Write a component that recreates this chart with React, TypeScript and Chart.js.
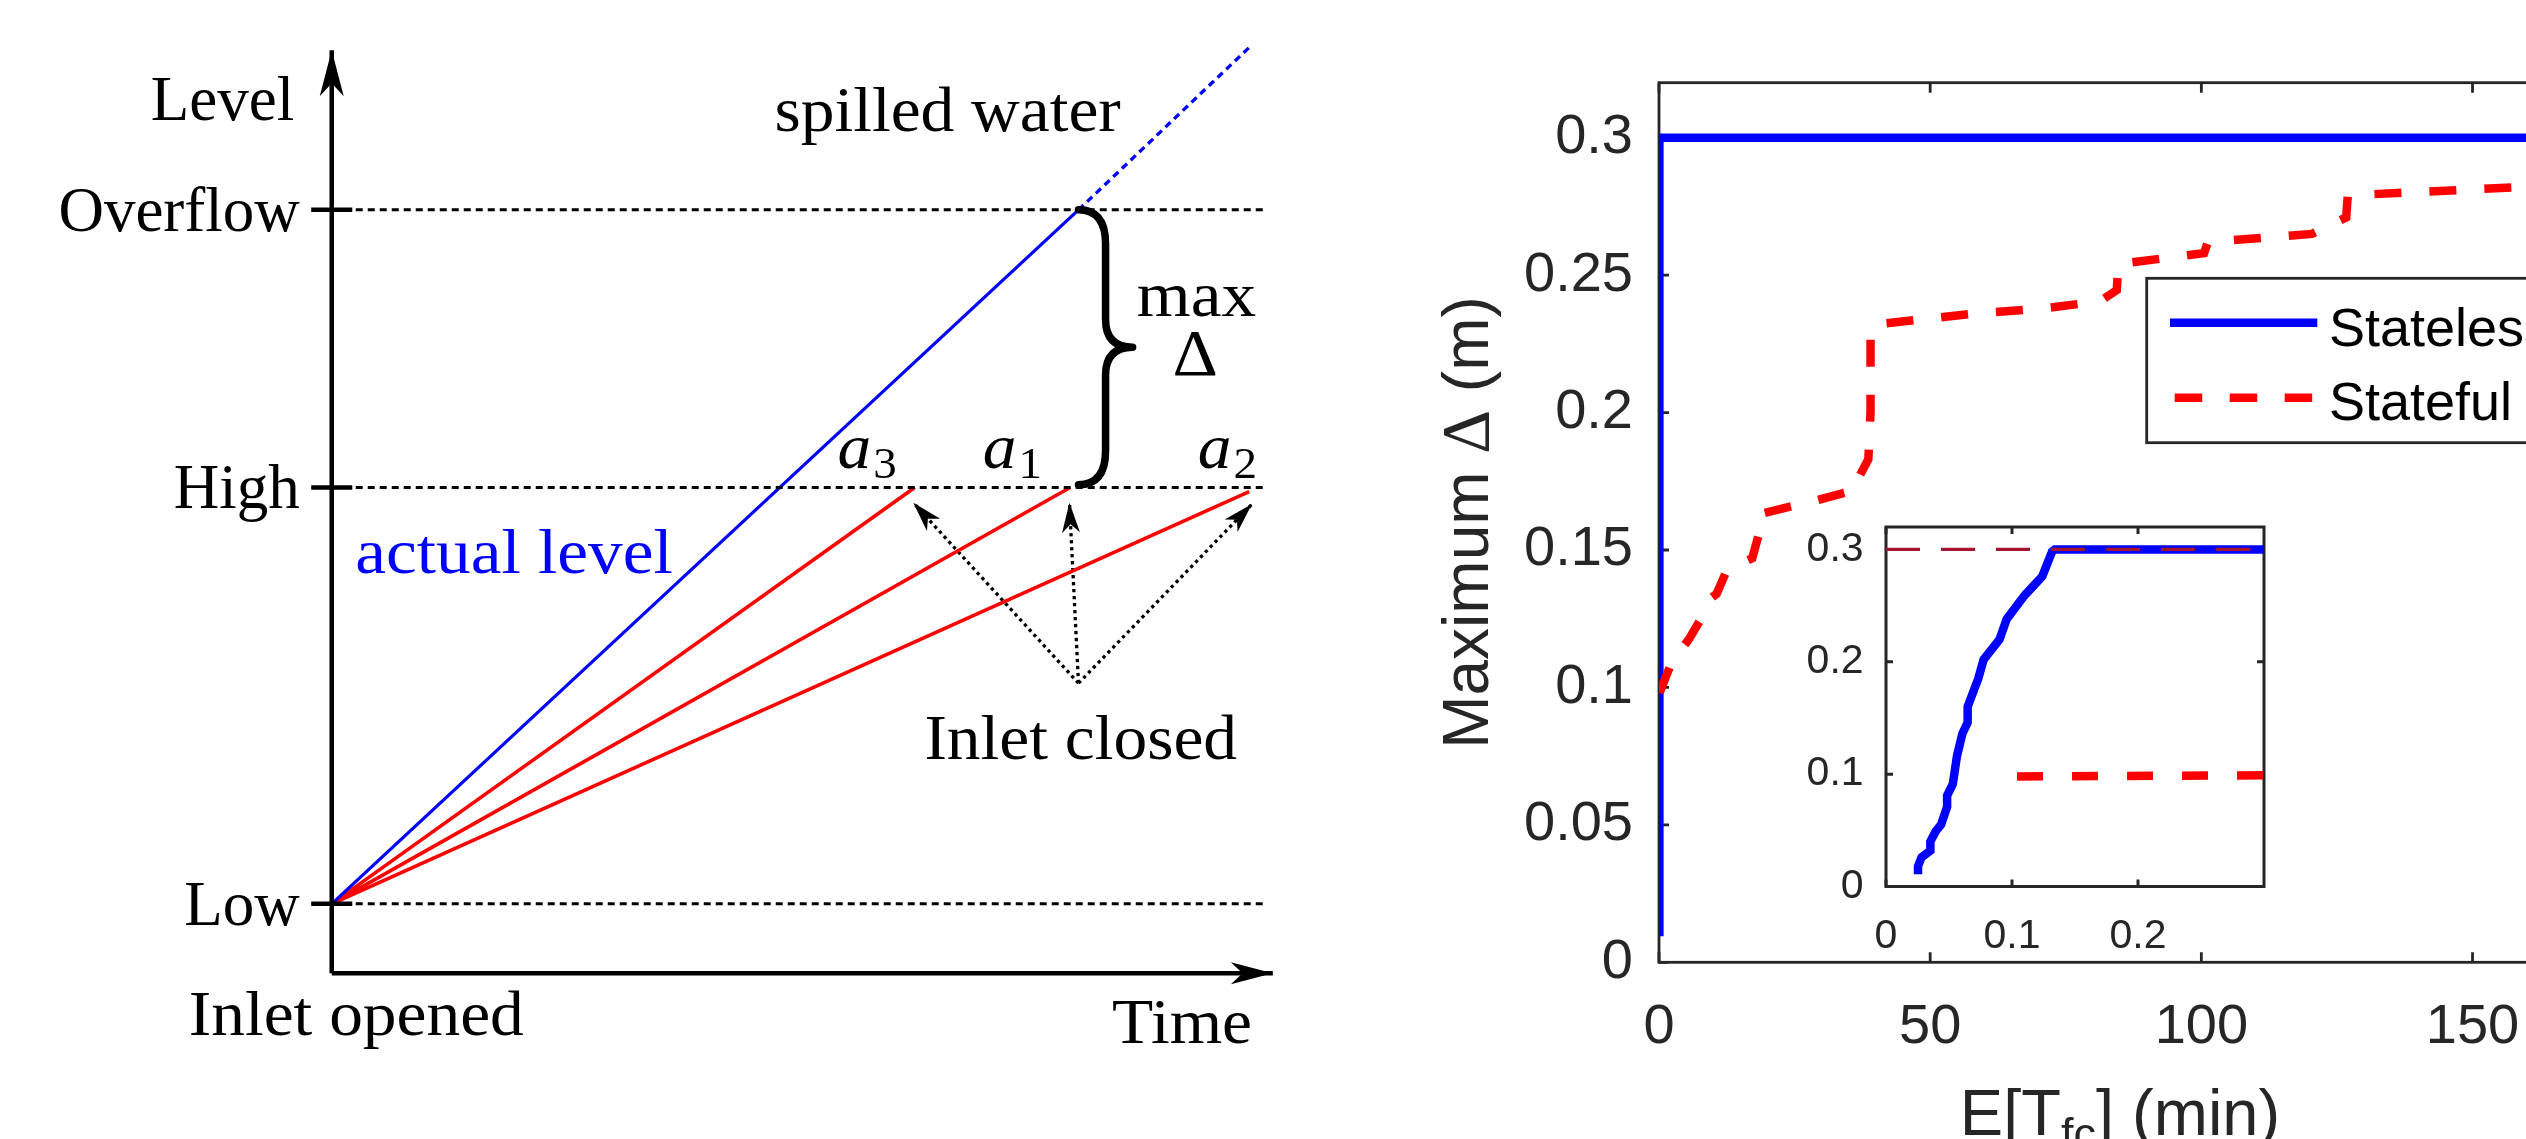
import React, { useEffect, useRef } from "react";
import { Chart, registerables } from "chart.js";

Chart.register(...registerables);

const SERIF = '"Liberation Serif", "Times New Roman", serif';
const SANS = '"Liberation Sans", Arial, Helvetica, sans-serif';
const AXIS_GRAY = "#262626";
const BLUE = "#0000FF";
const RED = "#FF0000";
const MAROON = "#A2142F";

// ---------------- Left panel: schematic (time vs level) ----------------
const LEVEL_NAMES = ["Low", "High", "Overflow"];
const LEVEL_VALUES = [1, 4, 6];
const LEVEL_GUIDE_END = 6.73;
const LEVEL_AXIS = [0.5, 7.15];
const TIME_AXIS = [0, 6.78];

const ACTUAL_TIME = [0, 5.38];
const ACTUAL_LEVEL = [1, 6];
const SPILLED_TIME = [5.38, 6.62];
const SPILLED_LEVEL = [6, 7.18];

const RATE_INDEX = ["3", "1", "2"];
const RATE_END_TIME = [4.2, 5.32, 6.61];
const RATE_END_LEVEL = [4, 4, 3.97];
const RATE_LABEL_TIME = [3.644, 4.69, 6.24];
const RATE_LABEL_LEVEL = 4.14;

const CLOSED_FROM_TIME = 5.38;
const CLOSED_FROM_LEVEL = 2.59;
const CLOSED_TIP_TIME = [4.19, 5.315, 6.63];
const CLOSED_TIP_LEVEL = [3.89, 3.89, 3.88];

const BRACE_TIME = 5.38;
const BRACE_TIP_TIME = 5.77;
const BRACE_LEVELS = [6, 4.02];

const SCHEMATIC_TEXT = [
  { text: "Level", t: -0.27, L: 6.645, align: "right", color: "#000", stretch: 1.0 },
  { text: "Inlet opened", t: -1.03, L: 0.055, align: "left", color: "#000", stretch: 1.07 },
  { text: "Time", t: 6.63, L: 0.0, align: "right", color: "#000", stretch: 1.07 },
  { text: "spilled water", t: 3.19, L: 6.565, align: "left", color: "#000", stretch: 1.07 },
  { text: "actual level", t: 0.17, L: 3.384, align: "left", color: BLUE, stretch: 1.1 },
  { text: "max", t: 5.8, L: 5.232, align: "left", color: "#000", stretch: 1.1 },
  { text: "Inlet closed", t: 4.27, L: 2.044, align: "left", color: "#000", stretch: 1.07 },
];
const DELTA_POS = { t: 6.22, L: 4.81 };

// ---------------- Right panel: Maximum Δ vs E[T_fc] ----------------
const SERIES_NAMES = ["Stateless", "Stateful"];
const MAIN_X_TICKS = [0, 50, 100, 150];
const MAIN_X_MAX = 170;
const MAIN_Y_TICKS = [0, 0.05, 0.1, 0.15, 0.2, 0.25, 0.3];
const MAIN_Y_MAX = 0.32;
const INSET_X_TICKS = [0, 0.1, 0.2];
const INSET_X_MAX = 0.3;
const INSET_Y_TICKS = [0, 0.1, 0.2, 0.3];
const INSET_Y_MAX = 0.32;

const STATELESS_X = [0.0254, 0.0254, 0.0282, 0.0352, 0.0352, 0.0394, 0.0437, 0.0485, 0.0485, 0.053, 0.0563, 0.0606, 0.0648, 0.0648, 0.0732, 0.0775, 0.0901, 0.0958, 0.1099, 0.124, 0.1318, 0.134, 170];
const STATELESS_Y = [0.011, 0.018, 0.026, 0.032, 0.04, 0.049, 0.055, 0.071, 0.081, 0.091, 0.116, 0.136, 0.146, 0.16, 0.185, 0.202, 0.22, 0.238, 0.259, 0.276, 0.298, 0.3, 0.3];

const STATEFUL_X = [0.104, 2.3, 5.5, 7.9, 9.0, 9.6, 10.6, 12.6, 17.2, 18.3, 18.5, 22.5, 29, 36.4, 37, 38.6, 39, 39, 39.7, 58.2, 71.4, 81.3, 84.4, 84.7, 100.5, 101.2, 120.4, 126.7, 127, 158.7, 170];
const STATEFUL_Y = [0.098, 0.109, 0.1175, 0.1255, 0.13, 0.1325, 0.134, 0.143, 0.147, 0.155, 0.163, 0.165, 0.168, 0.172, 0.177, 0.183, 0.2, 0.228, 0.232, 0.236, 0.238, 0.2405, 0.2445, 0.254, 0.258, 0.262, 0.265, 0.271, 0.279, 0.282, 0.2835];

const REFERENCE_X = [0, 0.3];
const REFERENCE_Y = [0.3, 0.3];

function xy(xs: number[], ys: number[]) {
  return xs.map((x, i) => ({ x, y: ys[i] }));
}

function stealth(ctx: CanvasRenderingContext2D, tipX: number, tipY: number, fromX: number, fromY: number, len: number, half: number) {
  const ang = Math.atan2(tipY - fromY, tipX - fromX);
  const c = Math.cos(ang), s = Math.sin(ang);
  const bx = tipX - len * c, by = tipY - len * s;
  const nx = tipX - len * 0.72 * c, ny = tipY - len * 0.72 * s;
  ctx.beginPath();
  ctx.moveTo(tipX, tipY);
  ctx.lineTo(bx - half * s, by + half * c);
  ctx.lineTo(nx, ny);
  ctx.lineTo(bx + half * s, by - half * c);
  ctx.closePath();
  ctx.fill();
}

function serifText(ctx: CanvasRenderingContext2D, text: string, x: number, y: number, font: string, color: string, align: CanvasTextAlign, stretch = 1.07) {
  ctx.save();
  ctx.font = font;
  ctx.fillStyle = color;
  ctx.textBaseline = "alphabetic";
  ctx.textAlign = align;
  ctx.translate(x, y);
  ctx.scale(stretch, 1);
  ctx.fillText(text, 0, 0);
  ctx.restore();
}

const schematicPlugin = {
  id: "schematic",
  afterDatasetsDraw(chart: any) {
    const { ctx } = chart;
    const sx = chart.scales.x, sy = chart.scales.y;
    const px = (t: number) => sx.getPixelForValue(t);
    const py = (l: number) => sy.getPixelForValue(l);
    ctx.save();
    ctx.setLineDash([]);
    // arrowheads
    chart.data.datasets.forEach((ds: any, i: number) => {
      if (!ds.arrowHead) return;
      const pts = chart.getDatasetMeta(i).data;
      const a = pts[pts.length - 2], b = pts[pts.length - 1];
      ctx.fillStyle = ds.borderColor;
      stealth(ctx, b.x, b.y, a.x, a.y, ds.arrowHead.length, ds.arrowHead.half);
    });
    // level ticks on the vertical axis
    ctx.strokeStyle = "#000";
    ctx.lineWidth = 4.5;
    LEVEL_VALUES.forEach((L) => {
      ctx.beginPath();
      ctx.moveTo(px(-0.148), py(L));
      ctx.lineTo(px(0.148), py(L));
      ctx.stroke();
    });
    // curly brace
    const x0 = px(BRACE_TIME), xt = px(BRACE_TIP_TIME);
    const y1 = py(BRACE_LEVELS[0]), y2 = py(BRACE_LEVELS[1]);
    const xm = (x0 + xt) / 2, ym = (y1 + y2) / 2;
    const ry = 34;
    ctx.lineWidth = 7.5;
    ctx.lineCap = "round";
    ctx.beginPath();
    ctx.moveTo(x0, y1);
    ctx.quadraticCurveTo(xm, y1, xm, y1 + ry);
    ctx.lineTo(xm, ym - 28);
    ctx.quadraticCurveTo(xm, ym, xt, ym);
    ctx.moveTo(xt, ym);
    ctx.quadraticCurveTo(xm, ym, xm, ym + 28);
    ctx.lineTo(xm, y2 - ry);
    ctx.quadraticCurveTo(xm, y2, x0, y2);
    ctx.stroke();
    // labels
    const font = `63px ${SERIF}`;
    LEVEL_NAMES.forEach((name, i) => {
      serifText(ctx, name, px(-0.23), py(LEVEL_VALUES[i] - 0.15), font, "#000", "right", 1.0);
    });
    SCHEMATIC_TEXT.forEach((d) => serifText(ctx, d.text, px(d.t), py(d.L), font, d.color, d.align as CanvasTextAlign, d.stretch));
    serifText(ctx, "\u0394", px(DELTA_POS.t), py(DELTA_POS.L), `66px ${SERIF}`, "#000", "center");
    RATE_INDEX.forEach((idx, i) => {
      const x = px(RATE_LABEL_TIME[i]);
      const y = py(RATE_LABEL_LEVEL);
      ctx.font = `italic 63px ${SERIF}`;
      const w = ctx.measureText("a").width * 1.07;
      serifText(ctx, "a", x, y, `italic 63px ${SERIF}`, "#000", "left");
      serifText(ctx, idx, x + w + 2, y + 10, `44px ${SERIF}`, "#000", "left");
    });
    ctx.restore();
  },
};

function seg(xs: number[], ys: number[], color: string, width: number, dash: number[] = [], arrow?: { length: number; half: number }) {
  return {
    data: xy(xs, ys),
    showLine: true,
    borderColor: color,
    borderWidth: width,
    borderDash: dash,
    pointRadius: 0,
    fill: false,
    arrowHead: arrow,
  };
}

function makeSchematic(canvas: HTMLCanvasElement) {
  const datasets: any[] = [
    ...LEVEL_VALUES.map((L) => seg([0, LEVEL_GUIDE_END], [L, L], "#000", 3, [7, 5])),
    seg([0, 0], LEVEL_AXIS, "#000", 4.5, [], { length: 46, half: 12 }),
    seg(TIME_AXIS, [LEVEL_AXIS[0], LEVEL_AXIS[0]], "#000", 4.5, [], { length: 42, half: 11 }),
    seg(ACTUAL_TIME, ACTUAL_LEVEL, BLUE, 3.3),
    seg(SPILLED_TIME, SPILLED_LEVEL, BLUE, 3.3, [7, 5]),
    ...RATE_END_TIME.map((t, i) => seg([0, t], [LEVEL_VALUES[0], RATE_END_LEVEL[i]], RED, 3.6)),
    ...CLOSED_TIP_TIME.map((t, i) =>
      seg([CLOSED_FROM_TIME, t], [CLOSED_FROM_LEVEL, CLOSED_TIP_LEVEL[i]], "#000", 3.3, [3.3, 3.7], { length: 30, half: 9 })
    ),
  ];
  return new Chart(canvas, {
    type: "scatter",
    data: { datasets },
    options: {
      animation: false,
      responsive: false,
      events: [],
      layout: { padding: 0 },
      plugins: { legend: { display: false }, tooltip: { enabled: false } },
      scales: {
        x: { type: "linear", min: -2.39, max: 7.192, display: false },
        y: { type: "linear", min: -0.694, max: 7.512, display: false },
      },
    },
    plugins: [schematicPlugin],
  } as any);
}

const boxPlugin = {
  id: "matlabBox",
  beforeDatasetsDraw(chart: any, _args: any, opts: any) {
    const { ctx, chartArea: a, scales } = chart;
    ctx.save();
    ctx.fillStyle = "#fff";
    ctx.fillRect(a.left, a.top, a.right - a.left, a.bottom - a.top);
    ctx.strokeStyle = AXIS_GRAY;
    ctx.lineWidth = opts.lineWidth;
    ctx.setLineDash([]);
    ctx.strokeRect(a.left, a.top, a.right - a.left, a.bottom - a.top);
    const L = opts.tickLength;
    ctx.beginPath();
    scales.x.ticks.forEach((t: any) => {
      const x = scales.x.getPixelForValue(t.value);
      ctx.moveTo(x, a.bottom);
      ctx.lineTo(x, a.bottom - L);
      ctx.moveTo(x, a.top);
      ctx.lineTo(x, a.top + L);
    });
    scales.y.ticks.forEach((t: any) => {
      const y = scales.y.getPixelForValue(t.value);
      ctx.moveTo(a.left, y);
      ctx.lineTo(a.left + L, y);
      ctx.moveTo(a.right, y);
      ctx.lineTo(a.right - L, y);
    });
    ctx.stroke();
    ctx.restore();
  },
};

const legendPlugin = {
  id: "boxLegend",
  afterDatasetsDraw(chart: any) {
    const { ctx, chartArea: a } = chart;
    const left = a.left + 487.7, top = a.top + 195.6, w = 424, h = 164.4;
    ctx.save();
    ctx.fillStyle = "#fff";
    ctx.fillRect(left, top, w, h);
    ctx.strokeStyle = AXIS_GRAY;
    ctx.lineWidth = 2.8;
    ctx.setLineDash([]);
    ctx.strokeRect(left, top, w, h);
    chart.data.datasets.forEach((ds: any, i: number) => {
      const y = top + 44.4 + i * 75;
      ctx.strokeStyle = ds.borderColor;
      ctx.lineWidth = ds.borderWidth;
      ctx.lineCap = "butt";
      if (ds.borderDash && ds.borderDash.length) {
        ctx.setLineDash([27.5, 27.5]);
        ctx.beginPath();
        ctx.moveTo(left + 28, y);
        ctx.lineTo(left + 166, y);
        ctx.stroke();
      } else {
        ctx.setLineDash([]);
        ctx.beginPath();
        ctx.moveTo(left + 23.3, y);
        ctx.lineTo(left + 170.6, y);
        ctx.stroke();
      }
      ctx.setLineDash([]);
      ctx.fillStyle = "#000";
      ctx.font = `54px ${SANS}`;
      ctx.textAlign = "left";
      ctx.textBaseline = "alphabetic";
      ctx.fillText(SERIES_NAMES[i], left + 182.3, top + 67.7 + i * 74);
    });
    ctx.restore();
  },
};

const titlePlugin = {
  id: "axisTitles",
  afterDraw(chart: any) {
    const { ctx, chartArea: a } = chart;
    ctx.save();
    ctx.fillStyle = AXIS_GRAY;
    ctx.textBaseline = "alphabetic";
    ctx.textAlign = "left";
    // x title: E[T_fc] (min)
    const big = `65px ${SANS}`, small = `45px ${SANS}`;
    const parts = [
      { s: "E[T", f: big, dy: 0 },
      { s: "fc", f: small, dy: 14 },
      { s: "] (min)", f: big, dy: 0 },
    ];
    const widths = parts.map((p) => { ctx.font = p.f; return ctx.measureText(p.s).width; });
    const total = widths.reduce((s, v) => s + v, 0);
    let x = (a.left + a.right) / 2 - total / 2;
    const base = a.bottom + 172.7;
    parts.forEach((p, i) => { ctx.font = p.f; ctx.fillText(p.s, x, base + p.dy); x += widths[i]; });
    // y title: Maximum Δ (m)
    const yparts = [
      { s: "Maximum ", f: `64px ${SANS}` },
      { s: "\u0394", f: `68px ${SERIF}` },
      { s: " (m)", f: `64px ${SANS}` },
    ];
    const yw = yparts.map((p) => { ctx.font = p.f; return ctx.measureText(p.s).width; });
    const ytotal = yw.reduce((s, v) => s + v, 0);
    ctx.translate(a.left - 171, (a.top + a.bottom) / 2);
    ctx.rotate(-Math.PI / 2);
    let u = -ytotal / 2;
    yparts.forEach((p, i) => { ctx.font = p.f; ctx.fillText(p.s, u, 0); u += yw[i]; });
    ctx.restore();
  },
};

function axisOpts(max: number, ticks: number[], size: number, pad: number, fontSize: number, horizontal: boolean) {
  return {
    type: "linear",
    min: 0,
    max,
    afterBuildTicks: (s: any) => { s.ticks = ticks.map((v) => ({ value: v })); },
    afterFit: (s: any) => { if (horizontal) s.height = size; else s.width = size; },
    grid: { display: false, drawTicks: false },
    border: { display: false },
    ticks: {
      autoSkip: false,
      maxRotation: 0,
      padding: pad,
      color: AXIS_GRAY,
      font: { family: SANS, size: fontSize },
      callback: (v: any) => String(v),
    },
  };
}

function makeMain(canvas: HTMLCanvasElement) {
  return new Chart(canvas, {
    type: "scatter",
    data: {
      datasets: [
        { label: SERIES_NAMES[0], data: xy(STATELESS_X, STATELESS_Y), showLine: true, borderColor: BLUE, borderWidth: 8.5, pointRadius: 0, order: 2 },
        { label: SERIES_NAMES[1], data: xy(STATEFUL_X, STATEFUL_Y), showLine: true, borderColor: RED, borderWidth: 8.5, borderDash: [27, 28], pointRadius: 0, order: 1 },
      ],
    },
    options: {
      animation: false,
      responsive: false,
      events: [],
      layout: { padding: { top: 82.7, right: 59, left: 0, bottom: 0 } },
      plugins: {
        legend: { display: false },
        tooltip: { enabled: false },
        matlabBox: { lineWidth: 2.8, tickLength: 10 },
      },
      scales: {
        x: axisOpts(MAIN_X_MAX, MAIN_X_TICKS, 1139 - 962.3, 31.7, 56, true),
        y: axisOpts(MAIN_Y_MAX, MAIN_Y_TICKS, 259, 26, 56, false),
      },
    },
    plugins: [boxPlugin, legendPlugin, titlePlugin],
  } as any);
}

function makeInset(canvas: HTMLCanvasElement) {
  return new Chart(canvas, {
    type: "scatter",
    data: {
      datasets: [
        { label: SERIES_NAMES[0], data: xy(STATELESS_X, STATELESS_Y), showLine: true, borderColor: BLUE, borderWidth: 8.5, pointRadius: 0, order: 3 },
        { label: SERIES_NAMES[1], data: xy(STATEFUL_X, STATEFUL_Y), showLine: true, borderColor: RED, borderWidth: 8.5, borderDash: [26, 29], pointRadius: 0, order: 2 },
        { label: "reference", data: xy(REFERENCE_X, REFERENCE_Y), showLine: true, borderColor: MAROON, borderWidth: 3.3, borderDash: [34, 21], pointRadius: 0, order: 1 },
      ],
    },
    options: {
      animation: false,
      responsive: false,
      events: [],
      layout: { padding: { top: 36, right: 36, left: 0, bottom: 0 } },
      plugins: {
        legend: { display: false },
        tooltip: { enabled: false },
        matlabBox: { lineWidth: 3, tickLength: 7 },
      },
      scales: {
        x: axisOpts(INSET_X_MAX, INSET_X_TICKS, 93.5, 25.6, 41, true),
        y: axisOpts(INSET_Y_MAX, INSET_Y_TICKS, 106, 22.4, 41, false),
      },
    },
    plugins: [boxPlugin],
  } as any);
}

export default function App() {
  const leftRef = useRef<HTMLCanvasElement>(null);
  const mainRef = useRef<HTMLCanvasElement>(null);
  const insetRef = useRef<HTMLCanvasElement>(null);

  useEffect(() => {
    const charts = [
      makeSchematic(leftRef.current as HTMLCanvasElement),
      makeMain(mainRef.current as HTMLCanvasElement),
      makeInset(insetRef.current as HTMLCanvasElement),
    ];
    return () => charts.forEach((c) => c.destroy());
  }, []);

  return (
    <div style={{ position: "fixed", left: 0, top: 0, width: 2526, height: 1139, overflow: "hidden", background: "#fff" }}>
      <canvas ref={leftRef} width={1330} height={1139} style={{ position: "absolute", left: 0, top: 0 }} />
      <canvas ref={mainRef} width={1240} height={1139} style={{ position: "absolute", left: 1400, top: 0 }} />
      <canvas ref={insetRef} width={520} height={500} style={{ position: "absolute", left: 1780, top: 480 }} />
    </div>
  );
}
